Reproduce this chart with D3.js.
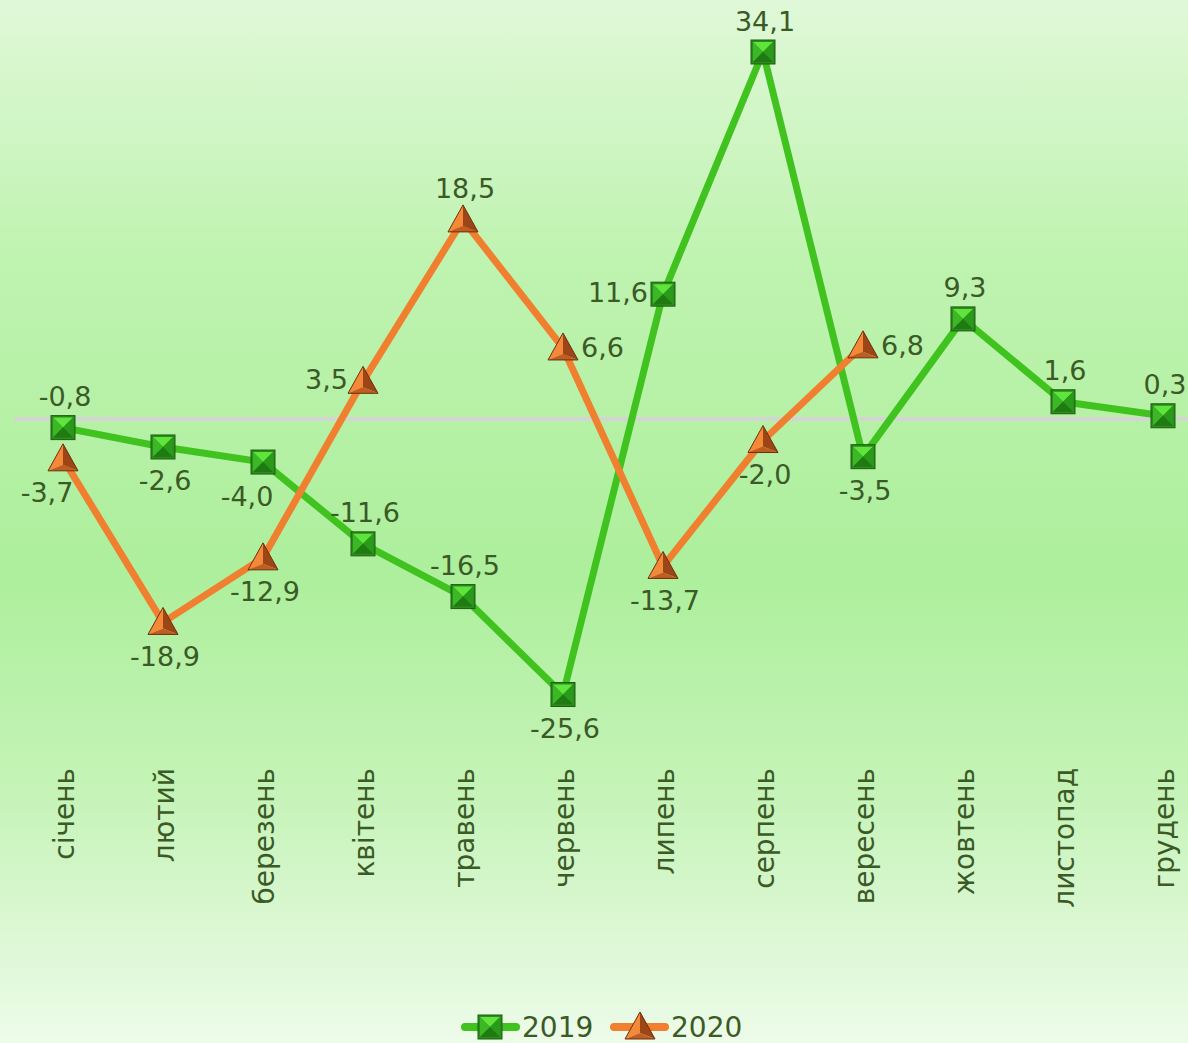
<!DOCTYPE html>
<html>
<head>
<meta charset="utf-8">
<script src="https://cdn.jsdelivr.net/npm/d3@7"></script>
<style>
	body { margin: 0; }
	svg { display: block; }
</style>
</head>
<body>
<svg id="chart" width="1188" height="1043"></svg>
<script>
// data
const months = ['січень', 'лютий', 'березень', 'квітень', 'травень', 'червень', 'липень', 'серпень', 'вересень', 'жовтень', 'листопад', 'грудень'];
const values2019 = [-0.8, -2.6, -4.0, -11.6, -16.5, -25.6, 11.6, 34.1, -3.5, 9.3, 1.6, 0.3];
const values2020 = [-3.7, -18.9, -12.9, 3.5, 18.5, 6.6, -13.7, -2.0, 6.8];
// where each value label sits relative to its point
const place2019 = ['above', 'below', 'belowleft', 'above', 'above', 'below', 'left', 'above', 'below', 'above', 'above', 'above'];
const place2020 = ['belowleft', 'below', 'below', 'left', 'above', 'right', 'below', 'below', 'right'];

const width = 1188;
const height = 1043;
const svg = d3.select('#chart');
const font = 'DejaVu Sans, Verdana, sans-serif';

// background gradient
const defs = svg.append('defs');
const bg = defs.append('linearGradient').attr('id', 'bg').attr('x1', 0).attr('y1', 0).attr('x2', 0).attr('y2', 1);
bg.append('stop').attr('offset', '0%').attr('stop-color', '#e0f8d8');
bg.append('stop').attr('offset', '25%').attr('stop-color', '#bff3b0');
bg.append('stop').attr('offset', '55%').attr('stop-color', '#adef9c');
bg.append('stop').attr('offset', '75%').attr('stop-color', '#c4f3b6');
bg.append('stop').attr('offset', '100%').attr('stop-color', '#edfbe9');
svg.append('rect').attr('width', width).attr('height', height).attr('fill', 'url(#bg)');

const xScale = d3.scalePoint().domain(months).range([63, 1163]);
const yScale = d3.scaleLinear().domain([0, 34.1]).range([419, 52]);

const fmt = v => d3.format('.1f')(v).replace('.', ',').replace('−', '-');

// zero line
svg.append('line')
	.attr('x1', 14).attr('x2', width)
	.attr('y1', yScale(0)).attr('y2', yScale(0))
	.attr('stroke', '#d4d4d4').attr('stroke-width', 4);

const line = d3.line().x((d, i) => xScale(months[i])).y(d => yScale(d));

svg.append('path').datum(values2019).attr('d', line)
	.attr('fill', 'none').attr('stroke', '#40c21f').attr('stroke-width', 7).attr('stroke-linejoin', 'round');
svg.append('path').datum(values2020).attr('d', line)
	.attr('fill', 'none').attr('stroke', '#f0802f').attr('stroke-width', 7).attr('stroke-linejoin', 'round');

// bevelled markers
function squareMarker(g, x, y) {
	const s = 12;
	const m = g.append('g').attr('transform', `translate(${x},${y})`);
	m.append('rect').attr('x', -s).attr('y', -s).attr('width', 2 * s).attr('height', 2 * s).attr('fill', '#2c8c1c');
	const i = s - 2;
	m.append('path').attr('d', `M${-i},${-i}L${i},${-i}L0,0Z`).attr('fill', '#5fe43c');
	m.append('path').attr('d', `M${-i},${-i}L${-i},${i}L0,0Z`).attr('fill', '#3cb826');
	m.append('path').attr('d', `M${i},${-i}L${i},${i}L0,0Z`).attr('fill', '#2a9a1a');
	m.append('path').attr('d', `M${-i},${i}L${i},${i}L0,0Z`).attr('fill', '#1f7a12');
	m.append('rect').attr('x', -s).attr('y', -s).attr('width', 2 * s).attr('height', 2 * s)
		.attr('fill', 'none').attr('stroke', '#1d5e12').attr('stroke-width', 1);
}
function triangleMarker(g, x, y) {
	const m = g.append('g').attr('transform', `translate(${x},${y})`);
	const top = [0, -15], left = [-15, 12], right = [15, 12], c = [0, 6];
	m.append('path').attr('d', `M${top}L${left}L${c}Z`).attr('fill', '#f5893a');
	m.append('path').attr('d', `M${top}L${right}L${c}Z`).attr('fill', '#9c4516');
	m.append('path').attr('d', `M${left}L${right}L${c}Z`).attr('fill', '#c05d22');
	m.append('path').attr('d', `M${top}L${left}L${right}Z`).attr('fill', 'none').attr('stroke', '#6e2f0c').attr('stroke-width', 1);
}

const markers = svg.append('g');
values2019.forEach((v, i) => squareMarker(markers, xScale(months[i]), yScale(v)));
values2020.forEach((v, i) => triangleMarker(markers, xScale(months[i]), yScale(v)));

// value labels
const labelColor = '#3b5a26';
function addLabels(vals, places) {
	vals.forEach((v, i) => {
		const x = xScale(months[i]);
		const y = yScale(v);
		const p = places[i];
		const t = svg.append('text')
			.attr('font-family', font)
			.attr('font-size', 27)
			.attr('fill', labelColor)
			.attr('dominant-baseline', 'central')
			.text(fmt(v));
		if (p === 'above') t.attr('x', x + 2).attr('y', y - 31).attr('text-anchor', 'middle');
		else if (p === 'below') t.attr('x', x + 2).attr('y', y + 34).attr('text-anchor', 'middle');
		else if (p === 'belowleft') t.attr('x', x - 16).attr('y', y + 34).attr('text-anchor', 'middle');
		else if (p === 'left') t.attr('x', x - 15).attr('y', y - 2).attr('text-anchor', 'end');
		else t.attr('x', x + 18).attr('y', y).attr('text-anchor', 'start');
	});
}
addLabels(values2019, place2019);
addLabels(values2020, place2020);

// month axis labels
const axis = d3.axisBottom(xScale).tickSize(0).tickPadding(0);
const axisG = svg.append('g').attr('transform', 'translate(0,768)').call(axis);
axisG.select('.domain').remove();
axisG.selectAll('text')
	.attr('transform', 'rotate(-90)')
	.attr('x', 0).attr('y', 0).attr('dy', '0.36em')
	.style('text-anchor', 'end')
	.attr('font-family', font)
	.attr('font-size', 28)
	.attr('fill', labelColor);

// legend
const legend = svg.append('g').attr('transform', 'translate(0,1027)');
legend.append('line').attr('x1', 465).attr('x2', 516).attr('stroke', '#40c21f').attr('stroke-width', 8).attr('stroke-linecap', 'round');
squareMarker(legend, 490, 0);
legend.append('text').attr('x', 522).attr('y', 0).attr('dominant-baseline', 'central')
	.attr('font-family', font).attr('font-size', 28).attr('fill', labelColor).text('2019');
legend.append('line').attr('x1', 614).attr('x2', 665).attr('stroke', '#f0802f').attr('stroke-width', 8).attr('stroke-linecap', 'round');
triangleMarker(legend, 640, 0);
legend.append('text').attr('x', 671).attr('y', 0).attr('dominant-baseline', 'central')
	.attr('font-family', font).attr('font-size', 28).attr('fill', labelColor).text('2020');
</script>
</body>
</html>
